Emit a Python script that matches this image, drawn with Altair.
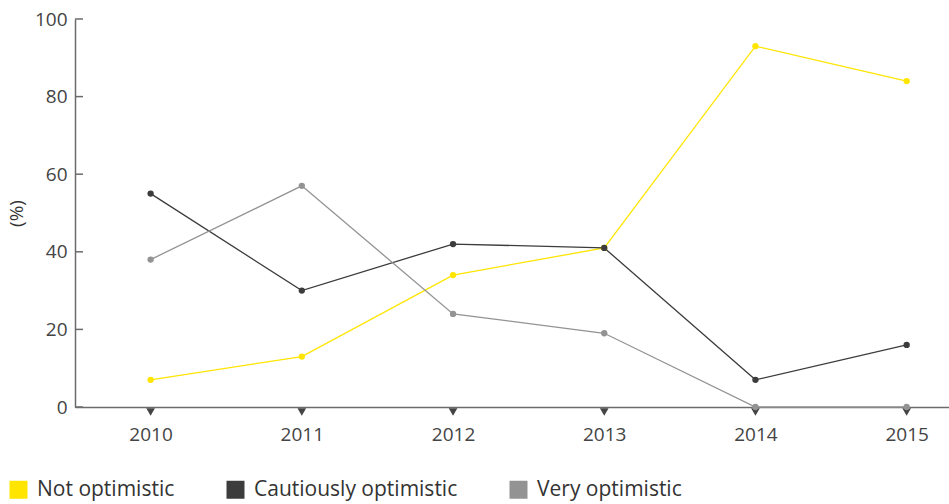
import altair as alt
import pandas as pd

# Survey shares by year (%)
years = [2010, 2011, 2012, 2013, 2014, 2015]
series = ["Not optimistic", "Cautiously optimistic", "Very optimistic"]
not_optimistic = [7, 13, 34, 41, 93, 84]
cautiously_optimistic = [55, 30, 42, 41, 7, 16]
very_optimistic = [38, 57, 24, 19, 0, 0]
colors = ["#FFE500", "#3C3C3C", "#939393"]
y_ticks = [0, 20, 40, 60, 80, 100]

rows = []
for name, vals in zip(series, [not_optimistic, cautiously_optimistic, very_optimistic]):
    for yr, v in zip(years, vals):
        rows.append({"year": yr, "series": name, "value": v})
df = pd.DataFrame(rows)

FONT = "Open Sans"
AXIS_GREY = "#6b6b6b"

x_scale = alt.Scale(domain=[2009.5, 2015.28], nice=False, zero=False)
y_scale = alt.Scale(domain=[0, 100], nice=False)
color_scale = alt.Scale(domain=series, range=colors)

x_axis = alt.Axis(
    values=years, format="d", ticks=False, tickSize=0, grid=False,
    domainColor=AXIS_GREY, domainWidth=1.5,
    labelFont=FONT, labelFontSize=19, labelColor="#444444", labelPadding=18,
    title=None,
)
y_axis = alt.Axis(
    values=y_ticks, ticks=False, tickSize=0, grid=False,
    domainColor=AXIS_GREY, domainWidth=1.5,
    labelFont=FONT, labelFontSize=19, labelColor="#444444", labelPadding=8,
    title="(%)", titleFont=FONT, titleFontSize=19, titleFontWeight="normal",
    titleColor="#333333", titlePadding=8,
)

base = alt.Chart(df)

lines = base.mark_line(strokeWidth=1.3).encode(
    x=alt.X("year:Q", scale=x_scale, axis=x_axis),
    y=alt.Y("value:Q", scale=y_scale, axis=y_axis),
    color=alt.Color("series:N", scale=color_scale, sort=series, legend=alt.Legend(title=None)),
)

points = base.mark_circle(size=40, opacity=1).encode(
    x=alt.X("year:Q", scale=x_scale),
    y=alt.Y("value:Q", scale=y_scale),
    color=alt.Color("series:N", scale=color_scale, sort=series),
)

# inward-pointing ticks on the value axis
tick_df = pd.DataFrame({"v": y_ticks})
y_tick_marks = alt.Chart(tick_df).mark_rule(color=AXIS_GREY, strokeWidth=1.5).encode(
    y=alt.Y("v:Q", scale=y_scale),
    x=alt.value(0),
    x2=alt.value(8),
)

# triangle markers under each year on the category axis
tri_df = pd.DataFrame({"year": years, "v": [0] * len(years)})
triangles = alt.Chart(tri_df).mark_point(
    shape="triangle-down", filled=True, size=75, color="#444444", opacity=1, yOffset=5
).encode(
    x=alt.X("year:Q", scale=x_scale),
    y=alt.Y("v:Q", scale=y_scale),
)

chart = alt.layer(y_tick_marks, triangles, lines, points).properties(
    width=874,
    height=388,
    autosize=alt.AutoSizeParams(type="none"),
    padding={"left": 75, "top": 19, "right": 0, "bottom": 97},
    background="white",
).configure_view(
    stroke=None
).configure_legend(
    orient="none",
    legendX=-67,
    legendY=460,
    direction="horizontal",
    symbolType="square",
    symbolSize=324,
    symbolStrokeWidth=0,
    symbolOpacity=1,
    labelFont=FONT,
    labelFontSize=21,
    labelColor="#333333",
    labelOffset=8,
    labelLimit=0,
    columnPadding=50,
    padding=0,
)

chart.save("out.html", embed_options={"renderer": "svg", "actions": False})
